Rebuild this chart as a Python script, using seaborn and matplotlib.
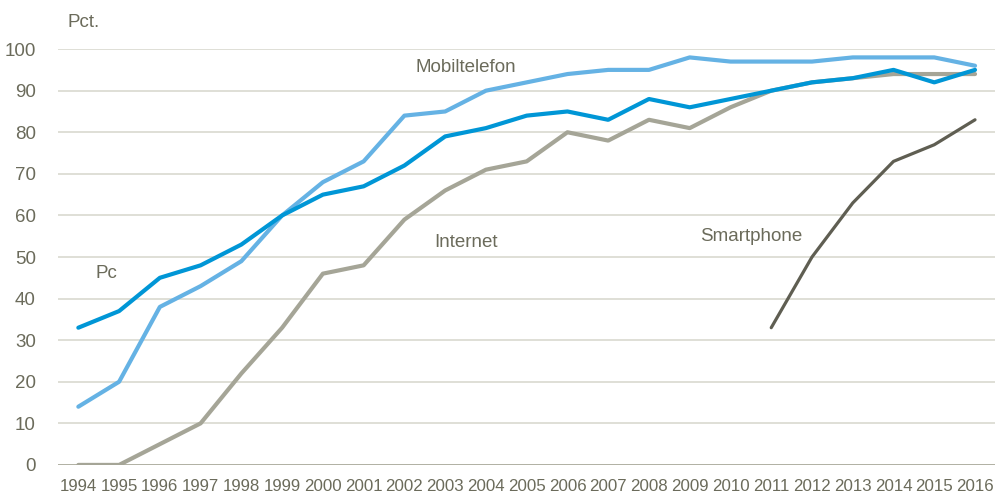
import matplotlib
matplotlib.use("Agg")
from matplotlib import pyplot as plt
from matplotlib import font_manager
import seaborn as sns
import pandas as pd
import numpy as np

years = list(range(1994, 2017))
pc = [33, 37, 45, 48, 53, 60, 65, 67, 72, 79, 81, 84, 85, 83, 88, 86, 88, 90, 92, 93, 95, 92, 95]
mobil = [14, 20, 38, 43, 49, 60, 68, 73, 84, 85, 90, 92, 94, 95, 95, 98, 97, 97, 97, 98, 98, 98, 96]
internet = [0, 0, 5, 10, 22, 33, 46, 48, 59, 66, 71, 73, 80, 78, 83, 81, 86, 90, 92, 93, 94, 94, 94]
smart_years = [2011, 2012, 2013, 2014, 2015, 2016]
smartphone = [33, 50, 63, 73, 77, 83]

sns.set_theme(style="white")
names = [f.name for f in font_manager.fontManager.ttflist]
fam = 'Liberation Sans Narrow' if 'Liberation Sans Narrow' in names else 'Liberation Sans'
plt.rcParams['font.family'] = [fam, 'DejaVu Sans']
TXT = '#6b6b5b'

df = pd.concat([
    pd.DataFrame({'year': years, 'value': pc, 'serie': 'Pc'}),
    pd.DataFrame({'year': years, 'value': mobil, 'serie': 'Mobiltelefon'}),
    pd.DataFrame({'year': years, 'value': internet, 'serie': 'Internet'}),
    pd.DataFrame({'year': smart_years, 'value': smartphone, 'serie': 'Smartphone'}),
])

colors = {'Mobiltelefon': '#65b2e4', 'Internet': '#a5a597', 'Pc': '#0096d6', 'Smartphone': '#5f5e52'}
widths = {'Mobiltelefon': 3.0, 'Internet': 3.0, 'Pc': 3.0, 'Smartphone': 2.3}

fig = plt.figure(figsize=(10.08, 5.01), dpi=100)
ax = fig.add_axes([0.0575, 0.072, 0.93, 0.83])

for s in ['Mobiltelefon', 'Internet', 'Pc', 'Smartphone']:
    sns.lineplot(data=df[df.serie == s], x='year', y='value', color=colors[s],
                 linewidth=widths[s], ax=ax, legend=False, zorder=3)

ax.set_xlim(1993.5, 2016.5)
ax.set_ylim(0, 100)
ax.set_yticks(np.arange(0, 101, 10))
ax.set_xticks(years)
ax.set_xticklabels([str(y) for y in years])
ax.set_xlabel('')
ax.set_ylabel('')
ax.tick_params(axis='y', labelsize=13.5, colors=TXT, length=0, pad=16)
ax.tick_params(axis='x', labelsize=12.2, colors=TXT, length=0, pad=10)
ax.yaxis.grid(True, color='#d9d9d0', linewidth=1.2)
ax.xaxis.grid(False)
for sp in ax.spines.values():
    sp.set_visible(False)
ax.axhline(0, color='#a9a99b', linewidth=1.2, zorder=2)

ax.text(0.01, 1.065, 'Pct.', transform=ax.transAxes, fontsize=13.5, color=TXT, ha='left', va='center')
ax.text(2003.5, 95.5, 'Mobiltelefon', fontsize=13.5, color=TXT, ha='center', va='center')
ax.text(2003.5, 53.5, 'Internet', fontsize=13.5, color=TXT, ha='center', va='center')
ax.text(1994.7, 46, 'Pc', fontsize=13.5, color=TXT, ha='center', va='center')
ax.text(2010.5, 55, 'Smartphone', fontsize=13.5, color=TXT, ha='center', va='center')

fig.savefig('out.png', dpi=100)
